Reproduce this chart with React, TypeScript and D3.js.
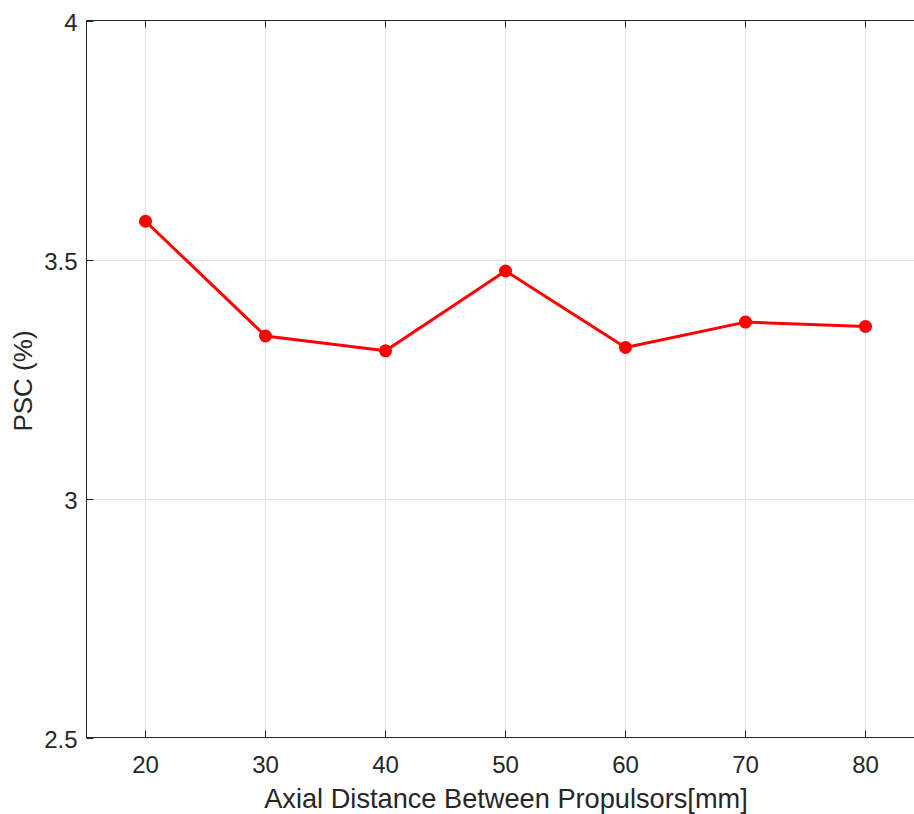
import * as d3 from "d3";
import { useRef, useEffect } from "react";

const distances = [20, 30, 40, 50, 60, 70, 80];
const psc = [3.58, 3.34, 3.309, 3.476, 3.316, 3.369, 3.36];
const xTicks = [20, 30, 40, 50, 60, 70, 80];
const yTicks = [2.5, 3, 3.5, 4];

export default function App() {
  const ref = useRef<SVGSVGElement>(null);

  useEffect(() => {
    const width = 914;
    const height = 814;
    const left = 86.5, right = 926.5, top = 20.5, bottom = 737.5;

    const svg = d3.select(ref.current);
    svg.selectAll("*").remove();
    svg.attr("width", width).attr("height", height);

    const x = d3.scaleLinear().domain([15, 85]).range([85.5, 925.5]);
    const y = d3.scaleLinear().domain([2.5, 4]).range([bottom, top]);
    const font = "'Liberation Sans', Arial, sans-serif";

    // grid
    svg.append("g")
      .selectAll("line")
      .data(xTicks)
      .enter()
      .append("line")
      .attr("x1", d => x(d))
      .attr("x2", d => x(d))
      .attr("y1", top)
      .attr("y2", bottom)
      .attr("stroke", "#e3e3e3")
      .attr("stroke-width", 1);

    svg.append("g")
      .selectAll("line")
      .data(yTicks.slice(1, -1))
      .enter()
      .append("line")
      .attr("x1", left)
      .attr("x2", right)
      .attr("y1", d => Math.round(y(d)) + 0.5)
      .attr("y2", d => Math.round(y(d)) + 0.5)
      .attr("stroke", "#e3e3e3")
      .attr("stroke-width", 1);

    // box
    svg.append("rect")
      .attr("x", left)
      .attr("y", top)
      .attr("width", right - left)
      .attr("height", bottom - top)
      .attr("fill", "none")
      .attr("stroke", "#262626")
      .attr("stroke-width", 1);

    // ticks (inward)
    const tickLen = 7;
    xTicks.forEach(t => {
      const px = x(t);
      svg.append("line").attr("x1", px).attr("x2", px)
        .attr("y1", bottom).attr("y2", bottom - tickLen)
        .attr("stroke", "#262626");
      svg.append("line").attr("x1", px).attr("x2", px)
        .attr("y1", top).attr("y2", top + tickLen)
        .attr("stroke", "#262626");
      svg.append("text")
        .attr("x", px)
        .attr("y", bottom + 35)
        .attr("text-anchor", "middle")
        .style("font-family", font)
        .style("font-size", "24px")
        .attr("fill", "#262626")
        .text(t);
    });

    yTicks.forEach(t => {
      const py = Math.round(y(t)) + 0.5;
      svg.append("line").attr("x1", left).attr("x2", left + tickLen)
        .attr("y1", py).attr("y2", py)
        .attr("stroke", "#262626");
      svg.append("text")
        .attr("x", left - 9)
        .attr("y", py + 9)
        .attr("text-anchor", "end")
        .style("font-family", font)
        .style("font-size", "24px")
        .attr("fill", "#262626")
        .text(t);
    });

    // axis labels
    svg.append("text")
      .attr("x", 506)
      .attr("y", 808)
      .attr("text-anchor", "middle")
      .style("font-family", font)
      .style("font-size", "27.2px")
      .attr("fill", "#262626")
      .text("Axial Distance Between Propulsors[mm]");

    svg.append("text")
      .attr("transform", `translate(32, 381) rotate(-90)`)
      .attr("text-anchor", "middle")
      .style("font-family", font)
      .style("font-size", "26px")
      .attr("fill", "#262626")
      .text("PSC (%)");

    // series
    const data = distances.map((d, i) => ({ d, v: psc[i] }));
    const line = d3.line<{ d: number; v: number }>()
      .x(p => x(p.d))
      .y(p => y(p.v));

    svg.append("path")
      .datum(data)
      .attr("d", line)
      .attr("fill", "none")
      .attr("stroke", "#ff0000")
      .attr("stroke-width", 3)
      .attr("stroke-linejoin", "round");

    svg.selectAll("circle")
      .data(data)
      .enter()
      .append("circle")
      .attr("cx", p => x(p.d))
      .attr("cy", p => y(p.v))
      .attr("r", 6.5)
      .attr("fill", "#ff0000");
  }, []);

  return (
    <svg
      ref={ref}
      style={{ position: "absolute", left: 0, top: 0, background: "#fff", overflow: "hidden" }}
    ></svg>
  );
}
